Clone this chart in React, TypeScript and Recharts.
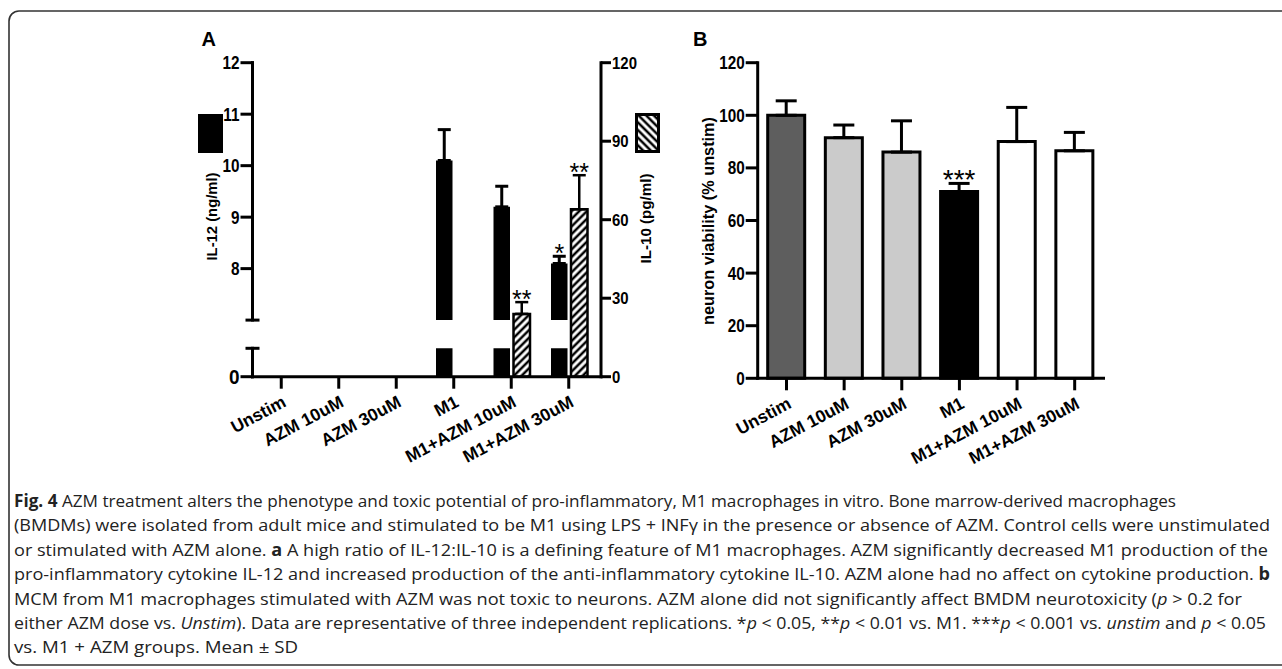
import React from 'react';
import { BarChart, Bar, XAxis, YAxis, ErrorBar, Cell, LabelList } from 'recharts';

// ---------- data ----------
const categories = ['Unstim', 'AZM 10uM', 'AZM 30uM', 'M1', 'M1+AZM 10uM', 'M1+AZM 30uM'];

const il12Mean = [0, 0, 0, 10.1, 9.2, 8.1];
const il12SD = [0, 0, 0, 0.6, 0.4, 0.14];
const il12Sig = ['', '', '', '', '', '*'];

const il10Mean = [0, 0, 0, 0, 24, 64];
const il10SD = [0, 0, 0, 0, 4.5, 13];
const il10Sig = ['', '', '', '', '**', '**'];

const viability = [100, 91.5, 86, 71, 90, 86.5];
const viabilitySD = [5.5, 4.8, 11.9, 3.1, 13, 7];
const viabilitySig = ['', '', '', '***', '', ''];
const viabilityFill = ['#5e5e5e', '#cbcbcb', '#cbcbcb', '#000000', '#ffffff', '#ffffff'];

const il12UpperTicks = [7, 8, 9, 10, 11, 12];
const il12LowerTicks = [0, 0.5];
const il10Ticks = [0, 30, 60, 90, 120];
const viabilityTicks = [0, 20, 40, 60, 80, 100, 120];

const rows = categories.map((name, i) => ({
  name,
  il12: il12Mean[i] > 0 ? il12Mean[i] : null,
  il12Err: il12SD[i] ? [0, il12SD[i]] : null,
  il10: il10Mean[i],
  il10Err: il10SD[i] ? [0, il10SD[i]] : null,
  via: viability[i],
  viaErr: viabilitySD[i] ? [0, viabilitySD[i]] : null,
}));

// ---------- caption ----------
type Seg = { t: string; b?: boolean; i?: boolean };
const captionLines: Seg[][] = [
  [{ t: 'Fig. 4', b: true }, { t: ' AZM treatment alters the phenotype and toxic potential of pro-inflammatory, M1 macrophages in vitro. Bone marrow-derived macrophages' }],
  [{ t: '(BMDMs) were isolated from adult mice and stimulated to be M1 using LPS + INFγ in the presence or absence of AZM. Control cells were unstimulated' }],
  [{ t: 'or stimulated with AZM alone. ' }, { t: 'a', b: true }, { t: ' A high ratio of IL-12:IL-10 is a defining feature of M1 macrophages. AZM significantly decreased M1 production of the' }],
  [{ t: 'pro-inflammatory cytokine IL-12 and increased production of the anti-inflammatory cytokine IL-10. AZM alone had no affect on cytokine production. ' }, { t: 'b', b: true }],
  [{ t: 'MCM from M1 macrophages stimulated with AZM was not toxic to neurons. AZM alone did not significantly affect BMDM neurotoxicity (' }, { t: 'p', i: true }, { t: ' > 0.2 for' }],
  [{ t: 'either AZM dose vs. ' }, { t: 'Unstim', i: true }, { t: '). Data are representative of three independent replications. *' }, { t: 'p', i: true }, { t: ' < 0.05, **' }, { t: 'p', i: true }, { t: ' < 0.01 vs. M1. ***' }, { t: 'p', i: true }, { t: ' < 0.001 vs. ' }, { t: 'unstim', i: true }, { t: ' and ' }, { t: 'p', i: true }, { t: ' < 0.05' }],
  [{ t: 'vs. M1 + AZM groups. Mean ± SD' }],
];
const captionWidths = [1162, 1256, 1254, 1256, 1228, 1252, 284];

// ---------- styling / layout ----------
const FONT = '"Liberation Sans", Arial, Helvetica, sans-serif';
const AXIS_LINE = { stroke: '#000', strokeWidth: 3, strokeLinecap: 'square' as const };
const TICK_LINE = { stroke: '#000', strokeWidth: 3 };
const Y_TICK = 12;
const Y_MARGIN = 1;

const A_TOP = 62.7;
const A_BREAK_HI = 320.1; // bottom of upper IL-12 segment
const A_BREAK_LO = 348.3; // top of lower IL-12 segment
const A_BOTTOM = 376.7;

function LeftTick(props: any) {
  const { payload, caps = [], bigZero, segDownFrom, segUpFrom, segLen = 0 } = props;
  const x = Number(props.x);
  const y = Number(props.y);
  const v = payload.value;
  const axisX = x + Y_TICK + Y_MARGIN;
  const parts: React.ReactNode[] = [];
  if (segDownFrom === v) parts.push(<line key="sd" x1={axisX} x2={axisX} y1={y - 1.5} y2={y + segLen} stroke="#000" strokeWidth={3} />);
  if (segUpFrom === v) parts.push(<line key="su" x1={axisX} x2={axisX} y1={y + 1.5} y2={y - segLen} stroke="#000" strokeWidth={3} />);
  if (caps.includes(v)) {
    parts.push(<line key="cap" x1={axisX - 7} x2={axisX + 7} y1={y} y2={y} stroke="#000" strokeWidth={3} />);
    return <g>{parts}</g>;
  }
  const big = bigZero && v === 0;
  parts.push(<line key="t" x1={axisX - Y_TICK} x2={axisX} y1={y} y2={y} stroke="#000" strokeWidth={3} />);
  parts.push(
    <text
      key="l"
      transform={`translate(${x},${y}) scale(${big ? 0.95 : 0.85},1)`}
      textAnchor="end"
      dy="0.36em"
      fontSize={big ? 20 : 18}
      fontWeight={700}
      fontFamily={FONT}
      fill="#000"
    >
      {v}
    </text>
  );
  return <g>{parts}</g>;
}

function RightTick(props: any) {
  const x = Number(props.x);
  const y = Number(props.y);
  return (
    <text
      transform={`translate(${x},${y}) scale(0.88,1)`}
      textAnchor="start"
      dy="0.36em"
      fontSize={17}
      fontWeight={700}
      fontFamily={FONT}
      fill="#000"
    >
      {props.payload.value}
    </text>
  );
}

function XTick(props: any) {
  const x = Number(props.x);
  const y = Number(props.y);
  return (
    <text
      transform={`translate(${x + 6},${y + 17}) rotate(-28)`}
      textAnchor="end"
      fontSize={17.5}
      fontWeight={700}
      fontFamily={FONT}
      fill="#000"
    >
      {props.payload.value}
    </text>
  );
}

function sigRenderer(sig: string[], mean: number[], sd: number[], base: number, fs: number, gap: number) {
  return (props: any) => {
    const i = categories.indexOf(props.value);
    if (i < 0 || !sig[i]) return null;
    const vb = props.viewBox && props.viewBox.width !== undefined ? props.viewBox : props;
    const x = Number(vb.x);
    const y = Number(vb.y);
    const width = Number(vb.width);
    const height = Number(vb.height);
    const ppu = height / (mean[i] - base);
    const errTop = y - sd[i] * ppu;
    return (
      <text x={x + width / 2} y={errTop - gap + 0.44 * fs} textAnchor="middle" fontSize={fs} fontFamily={FONT} fill="#000">
        {sig[i]}
      </text>
    );
  };
}

const layer: React.CSSProperties = { position: 'absolute', left: 0, top: 0 };
const X_PAD = { left: 0, right: 3.5 };
const HI_H = 345;
const LO_H = 400;

export default function App() {
  return (
    <div style={{ position: 'absolute', left: 0, top: 0, width: 1282, height: 669, background: '#fff', overflow: 'hidden' }}>
      {/* Panel A: IL-10 (full height, right axis, x axis) */}
      <div style={layer}>
        <BarChart width={700} height={480} data={rows} margin={{ top: A_TOP, right: 49, bottom: 0, left: 252.5 }} barSize={16.5} barGap={3.5}>
          <XAxis dataKey="name" interval={0} height={480 - A_BOTTOM} padding={X_PAD} tickSize={12} tickMargin={0}
            axisLine={AXIS_LINE} tickLine={TICK_LINE} tick={<XTick />} />
          <YAxis yAxisId="il10" orientation="right" width={50} domain={[0, 120]} ticks={il10Ticks} interval={0} tickSize={10} tickMargin={1}
            axisLine={AXIS_LINE} tickLine={TICK_LINE} tick={<RightTick />} />
          <Bar yAxisId="il10" dataKey="il12" fill="transparent" isAnimationActive={false} />
          <Bar yAxisId="il10" dataKey="il10" fill="url(#hatchBar)" stroke="#000" strokeWidth={2.5} isAnimationActive={false}>
            <ErrorBar dataKey="il10Err" width={6.5} stroke="#000" strokeWidth={2.5} />
            <LabelList dataKey="name" content={sigRenderer(il10Sig, il10Mean, il10SD, 0, 25, 5)} />
          </Bar>
        </BarChart>
      </div>

      {/* Panel A: IL-12 upper segment of the broken axis (7–12) */}
      <div style={layer}>
        <BarChart width={700} height={HI_H} data={rows} margin={{ top: A_TOP, right: 99, bottom: HI_H - A_BREAK_HI, left: 202.5 }} barSize={16.5} barGap={3.5}>
          <XAxis dataKey="name" hide padding={X_PAD} />
          <YAxis yAxisId="il12" width={50} domain={[7, 12]} ticks={il12UpperTicks} interval={0} allowDataOverflow tickSize={Y_TICK} tickMargin={Y_MARGIN}
            axisLine={AXIS_LINE} tickLine={false}
            tick={<LeftTick caps={[7]} segDownFrom={12} segLen={A_BREAK_HI - A_TOP} />} />
          <Bar yAxisId="il12" dataKey="il12" fill="#000" isAnimationActive={false}>
            <ErrorBar dataKey="il12Err" width={6.5} stroke="#000" strokeWidth={3} />
            <LabelList dataKey="name" content={sigRenderer(il12Sig, il12Mean, il12SD, 7, 25, 5)} />
          </Bar>
          <Bar yAxisId="il12" dataKey="il10" fill="transparent" isAnimationActive={false} />
        </BarChart>
      </div>

      {/* Panel A: IL-12 lower segment of the broken axis (from 0) */}
      <div style={layer}>
        <BarChart width={700} height={LO_H} data={rows} margin={{ top: A_BREAK_LO, right: 99, bottom: LO_H - A_BOTTOM, left: 202.5 }} barSize={16.5} barGap={3.5}>
          <XAxis dataKey="name" hide padding={X_PAD} />
          <YAxis yAxisId="il12lo" width={50} domain={[0, 0.5]} ticks={il12LowerTicks} interval={0} allowDataOverflow tickSize={Y_TICK} tickMargin={Y_MARGIN}
            axisLine={AXIS_LINE} tickLine={false}
            tick={<LeftTick caps={[0.5]} bigZero segUpFrom={0} segLen={A_BOTTOM - A_BREAK_LO} />} />
          <Bar yAxisId="il12lo" dataKey="il12" fill="#000" isAnimationActive={false} />
          <Bar yAxisId="il12lo" dataKey="il10" fill="transparent" isAnimationActive={false} />
        </BarChart>
      </div>

      {/* Panel B */}
      <div style={layer}>
        <BarChart width={1150} height={480} data={rows} margin={{ top: 62.7, right: 46.5, bottom: 0, left: 697.7 }} barSize={37}>
          <XAxis dataKey="name" interval={0} height={101.7} tickSize={12} tickMargin={0}
            axisLine={AXIS_LINE} tickLine={TICK_LINE} tick={<XTick />} />
          <YAxis width={60} domain={[0, 120]} ticks={viabilityTicks} interval={0} tickSize={Y_TICK} tickMargin={Y_MARGIN}
            axisLine={AXIS_LINE} tickLine={false} tick={<LeftTick />} />
          <Bar dataKey="via" stroke="#000" strokeWidth={3} isAnimationActive={false}>
            {rows.map((r, i) => (
              <Cell key={r.name} fill={viabilityFill[i]} />
            ))}
            <ErrorBar dataKey="viaErr" width={10.5} stroke="#000" strokeWidth={3} />
            <LabelList dataKey="name" content={sigRenderer(viabilitySig, viability, viabilitySD, 0, 28, 7)} />
          </Bar>
        </BarChart>
      </div>

      {/* decorations: frame, panel letters, axis titles, legend swatches, caption */}
      <svg width={1282} height={669} style={{ ...layer, pointerEvents: 'none' }}>
        <defs>
          <pattern id="hatchBar" patternUnits="userSpaceOnUse" width={5.4} height={5.4} patternTransform="rotate(45)">
            <rect width={5.4} height={5.4} fill="#fff" />
            <line x1={2.7} y1={0} x2={2.7} y2={5.4} stroke="#000" strokeWidth={2.5} />
          </pattern>
          <pattern id="hatchSwatch" patternUnits="userSpaceOnUse" width={5.4} height={5.4} patternTransform="rotate(-45)">
            <rect width={5.4} height={5.4} fill="#fff" />
            <line x1={2.7} y1={0} x2={2.7} y2={5.4} stroke="#000" strokeWidth={2.5} />
          </pattern>
        </defs>
        <path d="M 1300 11 H 19 A 10 10 0 0 0 9 21 V 655 A 10 10 0 0 0 19 665 H 1300" fill="none" stroke="#333" strokeWidth={1.6} />

        <text x={201.5} y={45.5} fontSize={20} fontWeight={700} fontFamily={FONT}>A</text>
        <text x={693} y={45.5} fontSize={20} fontWeight={700} fontFamily={FONT}>B</text>

        <rect x={198} y={114} width={25} height={39} fill="#000" />
        <text transform="translate(217.3,216.5) rotate(-90)" textAnchor="middle" fontSize={15.5} fontWeight={700}
          fontFamily={FONT} textLength={88} lengthAdjust="spacingAndGlyphs">IL-12 (ng/ml)</text>

        <rect x={636.5} y={114.5} width={22} height={37} fill="url(#hatchSwatch)" stroke="#000" strokeWidth={3} />
        <text transform="translate(651.1,218.5) rotate(-90)" textAnchor="middle" fontSize={15.5} fontWeight={700}
          fontFamily={FONT} textLength={90} lengthAdjust="spacingAndGlyphs">IL-10 (pg/ml)</text>

        <text transform="translate(714,221) rotate(-90)" textAnchor="middle" fontSize={16} fontWeight={700}
          fontFamily={FONT} textLength={208} lengthAdjust="spacingAndGlyphs">neuron viability  (% unstim)</text>

        {captionLines.map((segs, li) => (
          <text key={li} x={14} y={507 + li * 24.4} fontSize={17} fontFamily='"Open Sans", "Noto Sans", sans-serif'
            fill="#222" textLength={captionWidths[li]} lengthAdjust="spacingAndGlyphs">
            {segs.map((s, si) => (
              <tspan key={si} fontWeight={s.b ? 700 : 400} fontStyle={s.i ? 'italic' : 'normal'}>{s.t}</tspan>
            ))}
          </text>
        ))}
      </svg>
    </div>
  );
}
